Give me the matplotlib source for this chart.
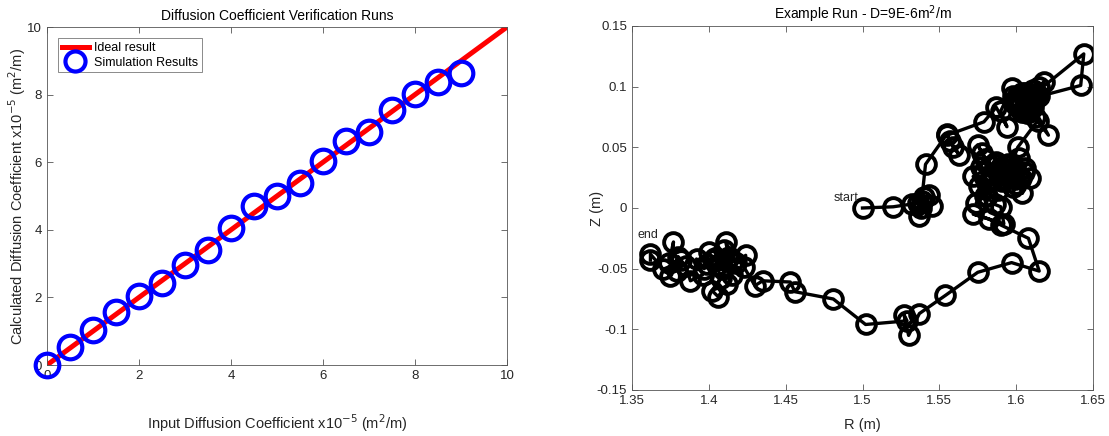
import matplotlib
matplotlib.use("Agg")
import matplotlib.pyplot as plt

plt.rcParams['font.family'] = ['Liberation Sans', 'DejaVu Sans']

# ---- Left panel data ----
input_D = [0, 0.5, 1, 1.5, 2, 2.5, 3, 3.5, 4, 4.5, 5, 5.5, 6, 6.5, 7, 7.5, 8, 8.5, 9]
calc_D = [0.0, 0.54, 1.04, 1.56, 2.03, 2.43, 2.96, 3.41, 4.06, 4.69, 5.0, 5.37, 6.04,
          6.63, 6.9, 7.54, 8.03, 8.37, 8.63]
ideal_x = [0, 10]
ideal_y = [0, 10]

# ---- Right panel data (random walk path) ----
R = [1.500, 1.520, 1.536, 1.540, 1.545, 1.537, 1.532, 1.539, 1.543, 1.538, 1.541,
     1.555, 1.559, 1.563, 1.557, 1.555, 1.579, 1.587, 1.594, 1.590, 1.597, 1.602,
     1.608, 1.612, 1.605, 1.615, 1.618, 1.610, 1.600, 1.607, 1.613, 1.604, 1.609,
     1.598, 1.603, 1.611, 1.606, 1.601, 1.644, 1.642,
     1.615, 1.606, 1.611, 1.621, 1.612, 1.603, 1.609, 1.599, 1.604, 1.610, 1.614,
     1.601, 1.597, 1.605, 1.609, 1.604, 1.598, 1.590, 1.585, 1.580, 1.575, 1.578,
     1.583, 1.589, 1.594, 1.599, 1.606, 1.602, 1.591, 1.586,
     1.572, 1.576, 1.583, 1.588, 1.593, 1.600, 1.596, 1.587, 1.579, 1.581, 1.577,
     1.584, 1.595, 1.603, 1.598, 1.589, 1.581, 1.574,
     1.580, 1.586, 1.590, 1.592,
     1.572, 1.582, 1.590, 1.608, 1.615, 1.597, 1.575, 1.554, 1.537, 1.530, 1.527,
     1.529, 1.502, 1.481, 1.456, 1.453, 1.435, 1.430,
     1.423, 1.424, 1.418, 1.411, 1.413, 1.415, 1.412, 1.406, 1.402, 1.408, 1.405,
     1.410, 1.416, 1.409, 1.404, 1.399,
     1.400, 1.403, 1.397, 1.392, 1.396, 1.388, 1.385, 1.380, 1.375, 1.377, 1.374,
     1.382, 1.379, 1.370, 1.362, 1.362]
Z = [0.000, 0.001, 0.004, 0.009, 0.002, -0.007, 0.003, 0.006, 0.011, 0.000, 0.036,
     0.061, 0.050, 0.044, 0.055, 0.060, 0.071, 0.083, 0.067, 0.080, 0.099, 0.090,
     0.086, 0.094, 0.082, 0.100, 0.104, 0.088, 0.085, 0.078, 0.091, 0.095, 0.081,
     0.092, 0.087, 0.097, 0.090, 0.083, 0.127, 0.101,
     0.092, 0.095, 0.083, 0.060, 0.075, 0.088, 0.092, 0.089, 0.079, 0.086, 0.072,
     0.050, 0.036, 0.030, 0.025, 0.012, 0.028, 0.034, 0.029, 0.040, 0.052, 0.045,
     0.035, 0.027, 0.031, 0.024, 0.033, 0.041, 0.022, 0.036,
     0.026, 0.018, 0.022, 0.015, 0.024, 0.020, 0.032, 0.038, 0.030, 0.010, 0.034,
     0.028, 0.036, 0.025, 0.017, 0.030, 0.021, 0.004,
     0.010, 0.003, 0.001, -0.013,
     -0.005, -0.009, -0.014, -0.025, -0.052, -0.045, -0.053, -0.072, -0.087, -0.105, -0.088,
     -0.093, -0.096, -0.075, -0.069, -0.061, -0.060, -0.064,
     -0.049, -0.039, -0.045, -0.028, -0.040, -0.055, -0.063, -0.073, -0.068, -0.058, -0.047,
     -0.035, -0.044, -0.050, -0.041, -0.046,
     -0.036, -0.043, -0.050, -0.042, -0.055, -0.060, -0.048, -0.040, -0.056, -0.028, -0.045,
     -0.043, -0.052, -0.050, -0.038, -0.043]

TXC = '#262626'

fig = plt.figure(figsize=(11.09, 4.36), dpi=100)

def style(ax):
    for s in ax.spines.values():
        s.set_color('#555555')
        s.set_linewidth(0.6)
    ax.tick_params(direction='in', top=True, right=True, length=4, width=0.6,
                   colors='#555555', labelcolor=TXC, labelsize=9.5)

# Left axes
ax1 = fig.add_axes([47/1109, 1-365/436, 460/1109, 338/436])
ax1.plot(ideal_x, ideal_y, color='#ff0000', lw=3.6, label='Ideal result', zorder=2)
ax1.plot(input_D, calc_D, 'o', mfc='none', mec='#0000ff', mew=3.0, ms=17,
         label='Simulation Results', clip_on=False, zorder=3)
ax1.set_xlim(0, 10)
ax1.set_ylim(0, 10)
ax1.set_xticks([0, 2, 4, 6, 8, 10])
ax1.set_yticks([0, 2, 4, 6, 8, 10])
style(ax1)
ax1.set_title('Diffusion Coefficient Verification Runs', fontsize=10, color='black', pad=5)
ax1.set_xlabel('Input Diffusion Coefficient x10$^{-5}$ (m$^2$/m)', fontsize=10.5, color=TXC)
ax1.xaxis.set_label_coords(0.5, -(423-365)/338)
ax1.xaxis.label.set_va('center')
ax1.set_ylabel('Calculated Diffusion Coefficient x10$^{-5}$ (m$^2$/m)', fontsize=10.5, color=TXC)
ax1.yaxis.set_label_coords(-(47-17)/460, 0.5)
ax1.yaxis.label.set_va('center')
leg = ax1.legend(loc='upper left', fontsize=9, frameon=True, fancybox=False,
                 handlelength=2.2, borderpad=0.3, labelspacing=0.2, handletextpad=0.4,
                 bbox_to_anchor=(0.01, 0.985), markerscale=0.85)
leg.get_frame().set_edgecolor('#555555')
leg.get_frame().set_linewidth(0.6)

# Right axes
ax2 = fig.add_axes([632/1109, 1-390/436, 461/1109, 364/436])
ax2.plot(R, Z, '-o', color='black', lw=2.4, mfc='none', mec='black', mew=2.8, ms=13.5)
ax2.set_xlim(1.35, 1.65)
ax2.set_ylim(-0.15, 0.15)
ax2.set_xticks([1.35, 1.4, 1.45, 1.5, 1.55, 1.6, 1.65])
ax2.set_xticklabels(['1.35', '1.4', '1.45', '1.5', '1.55', '1.6', '1.65'])
ax2.set_yticks([-0.15, -0.1, -0.05, 0, 0.05, 0.1, 0.15])
ax2.set_yticklabels(['-0.15', '-0.1', '-0.05', '0', '0.05', '0.1', '0.15'])
style(ax2)
ax2.set_title('Example Run - D=9E-6m$^2$/m', fontsize=10, color='black', pad=5)
ax2.set_xlabel('R (m)', fontsize=10.5, color=TXC)
ax2.xaxis.set_label_coords(0.5, -(425-390)/364)
ax2.xaxis.label.set_va('center')
ax2.set_ylabel('Z (m)', fontsize=10.5, color=TXC)
ax2.yaxis.set_label_coords(-(632-597)/461, 0.5)
ax2.yaxis.label.set_va('center')
ax2.text(1.4975, 0.003, 'start', fontsize=9, ha='right', va='bottom', color=TXC)
ax2.text(1.3535, -0.027, 'end', fontsize=9, ha='left', va='bottom', color=TXC)

fig.savefig('out.png', dpi=100)
